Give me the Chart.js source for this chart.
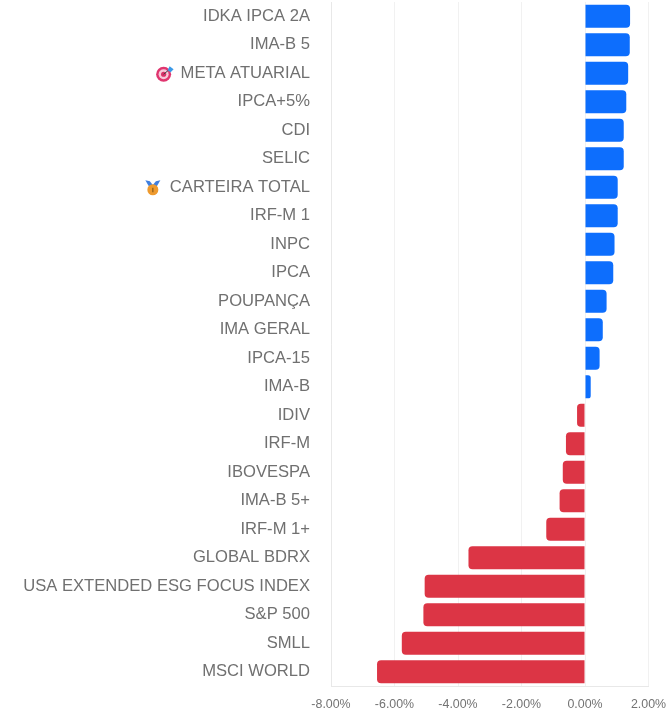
<!DOCTYPE html>
<html><head><meta charset="utf-8">
<style>html,body{margin:0;padding:0;background:#fff}#w{width:670px;height:711px;position:relative}canvas{filter:blur(0.55px)}</style>
<script src="https://cdn.jsdelivr.net/npm/chart.js@4"></script>
</head><body><div id="w"><canvas id="c"></canvas></div>
<script>
const categories = ["IDKA IPCA 2A","IMA-B 5","META ATUARIAL","IPCA+5%","CDI","SELIC","CARTEIRA TOTAL","IRF-M 1","INPC","IPCA","POUPANÇA","IMA GERAL","IPCA-15","IMA-B","IDIV","IRF-M","IBOVESPA","IMA-B 5+","IRF-M 1+","GLOBAL BDRX","USA EXTENDED ESG FOCUS INDEX","S&P 500","SMLL","MSCI WORLD"];
const values = [1.42,1.41,1.36,1.30,1.22,1.22,1.03,1.03,0.93,0.89,0.68,0.56,0.46,0.18,-0.25,-0.60,-0.70,-0.80,-1.22,-3.67,-5.05,-5.09,-5.77,-6.55];
const xTicks = [-8,-6,-4,-2,0,2];
const BLUE = "#0d6efd", RED = "#dc3545";

const labelFont = "16.6px 'Liberation Sans', Arial, sans-serif";
function target(ctx,x,y){
  ctx.fillStyle="#e0356f";ctx.beginPath();ctx.arc(x,y,7.5,0,7);ctx.fill();
  ctx.fillStyle="#f7c6d8";ctx.beginPath();ctx.arc(x,y,5,0,7);ctx.fill();
  ctx.fillStyle="#d92f68";ctx.beginPath();ctx.arc(x,y,2.6,0,7);ctx.fill();
  ctx.strokeStyle="#444";ctx.lineWidth=1;ctx.beginPath();ctx.moveTo(x,y);ctx.lineTo(x+6,y-5);ctx.stroke();
  ctx.fillStyle="#3b9ae8";ctx.beginPath();ctx.moveTo(x+4,y-4);ctx.lineTo(x+6,y-8);ctx.lineTo(x+10,y-5);ctx.lineTo(x+7,y-2);ctx.closePath();ctx.fill();
}
function medal(ctx,x,y){
  ctx.fillStyle="#3f7fe0";
  ctx.beginPath();ctx.moveTo(x-7.5,y-7);ctx.lineTo(x-3,y-6);ctx.lineTo(x+1,y-1);ctx.lineTo(x-4,y-1);ctx.closePath();ctx.fill();
  ctx.beginPath();ctx.moveTo(x+7.5,y-7);ctx.lineTo(x+3,y-6);ctx.lineTo(x-1,y-1);ctx.lineTo(x+4,y-1);ctx.closePath();ctx.fill();
  ctx.fillStyle="#ee9a2e";ctx.beginPath();ctx.arc(x,y+2.5,5.5,0,7);ctx.fill();
  ctx.fillStyle="#8a5a18";ctx.fillRect(x-0.6,y+0.5,1.2,4.5);
}
const iconPlugin = {
  id:"icons",
  afterDraw(chart){
    const ctx=chart.ctx, s=chart.scales.y;
    ctx.save();ctx.font=labelFont;
    const right=s.right-21;
    const a=categories.indexOf("META ATUARIAL"), b=categories.indexOf("CARTEIRA TOTAL");
    target(ctx,right-ctx.measureText(categories[a]).width-17,s.getPixelForTick(a)+1);
    medal(ctx,right-ctx.measureText(categories[b]).width-17,s.getPixelForTick(b));
    ctx.restore();
  }
};
new Chart(document.getElementById("c"),{
  type:"bar",
  data:{labels:categories,datasets:[{
    data:values,
    backgroundColor:values.map(v=>v>=0?BLUE:RED),
    borderRadius:4,
    barPercentage:0.81,
    categoryPercentage:1
  }]},
  plugins:[iconPlugin],
  options:{
    indexAxis:"y",responsive:true,maintainAspectRatio:false,animation:false,
    layout:{padding:{top:2,right:21.5,bottom:0,left:0}},
    plugins:{legend:{display:false},tooltip:{enabled:false}},
    scales:{
      x:{min:-8,max:2,
        afterBuildTicks(a){a.ticks=xTicks.map(v=>({value:v}));},
        afterFit(a){a.height=25;a.paddingLeft=0;a.paddingRight=0;a.paddingTop=0;a.paddingBottom=0;},
        grid:{color:"#f1f1f1",drawTicks:false},border:{color:"#e8e8e8"},
        ticks:{color:"#737373",padding:11,maxRotation:0,font:{family:"'Liberation Sans', Arial, sans-serif",size:12.4},callback:v=>v.toFixed(2)+"%"}},
      y:{afterFit(a){a.width=331;a.paddingLeft=0;a.paddingRight=0;a.paddingTop=0;a.paddingBottom=0;},
        grid:{display:false},border:{color:"#e8e8e8"},
        ticks:{color:"#707070",padding:13,autoSkip:false,font:{family:"'Liberation Sans', Arial, sans-serif",size:16.6}}}
    }
  }
});
</script></body></html>
